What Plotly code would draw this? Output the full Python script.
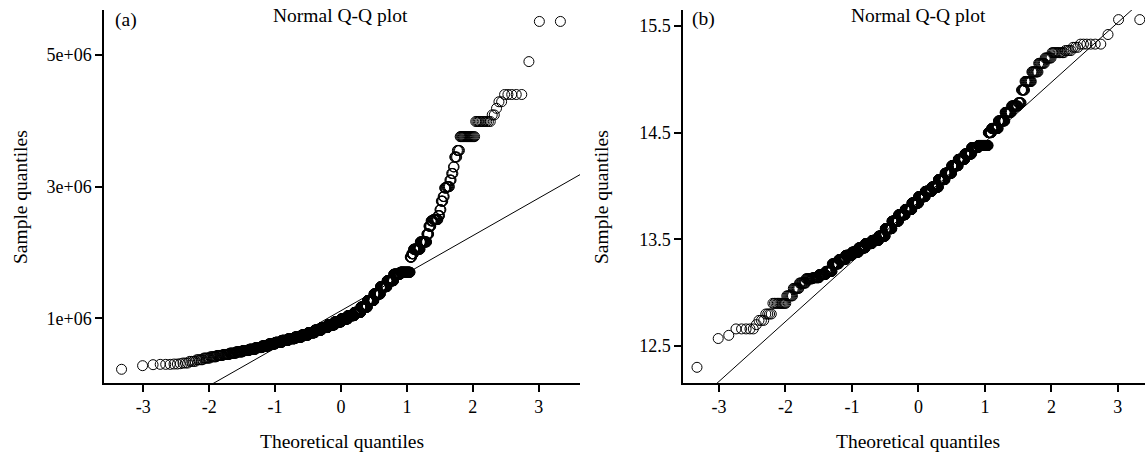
import numpy as np
import plotly.graph_objects as go
from statistics import NormalDist

# ---------------- data ----------------
# Panel (a): sorted sample values (in units of 1e6) and how many points share each value
a_values = [0.225, 0.28, 0.295, 0.30, 0.305, 0.31,
            0.32, 0.345, 0.37, 0.395, 0.415, 0.435, 0.45, 0.47, 0.49, 0.51,
            0.53, 0.555, 0.58, 0.61, 0.635, 0.665, 0.69, 0.715, 0.745, 0.78,
            0.82, 0.86, 0.90, 0.945, 0.99, 1.04, 1.09, 1.17, 1.27, 1.37,
            1.48, 1.57, 1.67, 1.70, 1.93, 1.98, 2.05, 2.16, 2.28, 2.40,
            2.48, 2.50, 2.56, 2.65, 2.78, 2.85, 2.98, 3.0, 3.1, 3.2,
            3.3, 3.45, 3.55, 3.76, 3.99, 4.09, 4.19, 4.29, 4.40, 4.90, 5.51]
a_counts = [1, 1, 1, 3, 2, 1,
            3, 4, 5, 6, 7, 8, 10, 12, 14, 16,
            18, 21, 24, 26, 29, 32, 35, 37, 39, 42,
            43, 44, 46, 46, 46, 45, 44, 43, 41, 39,
            37, 35, 32, 43, 6, 7, 24, 21, 6, 6,
            6, 12, 4, 3, 4, 3, 4, 6, 3, 3,
            2, 4, 4, 17, 11, 2, 1, 2, 5, 1, 2]

# Panel (b): sorted log sample values and their counts
b_values = [12.30, 12.57, 12.60, 12.66, 12.70,
            12.74, 12.80, 12.90, 12.90, 12.97, 13.04, 13.09, 13.13, 13.14, 13.17,
            13.20, 13.27, 13.31, 13.35, 13.38, 13.42, 13.46, 13.49, 13.53, 13.60,
            13.67, 13.73, 13.78, 13.84, 13.90, 13.95, 13.99, 14.06, 14.12, 14.19,
            14.25, 14.30, 14.36, 14.38, 14.50, 14.54, 14.61, 14.69, 14.75, 14.78,
            14.90, 14.98, 15.07, 15.15, 15.20, 15.25, 15.27, 15.30, 15.33, 15.42, 15.56]
b_counts = [1, 1, 1, 5, 1,
            3, 4, 5, 6, 7, 8, 10, 12, 14, 16,
            18, 21, 24, 26, 29, 32, 35, 37, 39, 42,
            43, 44, 46, 46, 46, 45, 44, 43, 41, 39,
            37, 35, 32, 43, 13, 24, 21, 18, 16, 7,
            7, 12, 10, 8, 7, 10, 4, 3, 6, 1, 2]

# reference lines: (intercept, slope)
a_line = (1.115, 0.57)      # in 1e6 units
b_line = (13.85, 0.561)

x_ticks = [-3, -2, -1, 0, 1, 2, 3]
a_yticks = [1, 3, 5]
a_yticklabels = ["1e+06", "3e+06", "5e+06"]
b_yticks = [12.5, 13.5, 14.5, 15.5]
b_yticklabels = ["12.5", "13.5", "14.5", "15.5"]

# ---------------- build ----------------
nd = NormalDist()


def qq(values, counts):
    y = np.repeat(np.array(values, dtype=float), counts)
    n = len(y)
    p = (np.arange(1, n + 1) - 0.5) / n
    x = np.array([nd.inv_cdf(v) for v in p])
    return x, y


xa, ya = qq(a_values, a_counts)
xb, yb = qq(b_values, b_counts)
ya = ya * 1e6

FONT = "Liberation Serif"
FS = 18
FA = 19.5
W, H = 1145, 458

a_xrange = [-3.596, 3.627]
b_xrange = [-3.54, 3.408]
a_yrange = [0.0167e6, 5.684e6]
b_yrange = [12.153, 15.65]

fig = go.Figure()
mk = dict(symbol="circle-open", size=10, color="black", line=dict(width=1, color="black"))
fig.add_trace(go.Scatter(x=xa, y=ya, mode="markers", marker=mk, xaxis="x", yaxis="y",
                         showlegend=False))
fig.add_trace(go.Scatter(x=xb, y=yb, mode="markers", marker=mk, xaxis="x2", yaxis="y2",
                         showlegend=False))

lx = np.array([-4.0, 4.0])
fig.add_trace(go.Scatter(x=lx, y=(a_line[0] + a_line[1] * lx) * 1e6, mode="lines",
                         line=dict(color="black", width=1), xaxis="x", yaxis="y",
                         showlegend=False))
fig.add_trace(go.Scatter(x=lx, y=b_line[0] + b_line[1] * lx, mode="lines",
                         line=dict(color="black", width=1), xaxis="x2", yaxis="y2",
                         showlegend=False))


def px(x):
    return x / W


def py(y):
    return 1 - y / H


axcommon = dict(showgrid=False, zeroline=False, showline=True, linecolor="black",
                linewidth=1.5, ticks="outside", ticklen=7, tickwidth=1.5,
                tickcolor="black", tickfont=dict(family=FONT, size=FS, color="black"),
                mirror=False)

fig.update_layout(
    width=W, height=H, margin=dict(l=0, r=0, t=0, b=0),
    paper_bgcolor="white", plot_bgcolor="white",
    xaxis=dict(domain=[px(104), px(580)], range=a_xrange, anchor="y",
               tickvals=x_ticks, ticktext=[str(t) for t in x_ticks], **axcommon),
    yaxis=dict(domain=[py(383), py(10)], range=a_yrange, anchor="x",
               tickvals=[v * 1e6 for v in a_yticks], ticktext=a_yticklabels, **axcommon),
    xaxis2=dict(domain=[px(683), 1.0], range=b_xrange, anchor="y2",
                tickvals=x_ticks, ticktext=[str(t) for t in x_ticks], **axcommon),
    yaxis2=dict(domain=[py(383), py(10)], range=b_yrange, anchor="x2",
                tickvals=b_yticks, ticktext=b_yticklabels, **axcommon),
)

ann_font = dict(family=FONT, size=FA, color="black")
anns = [
    dict(text="Theoretical quantiles", x=px(342), y=py(441)),
    dict(text="Theoretical quantiles", x=px(918), y=py(441)),
    dict(text="Sample quantiles", x=px(20), y=py(197), textangle=-90),
    dict(text="Sample quantiles", x=px(601), y=py(197), textangle=-90),
    dict(text="Normal Q-Q plot", x=px(340), y=py(16)),
    dict(text="Normal Q-Q plot", x=px(918), y=py(16)),
    dict(text="(a)", x=px(113), y=py(20), xanchor="left"),
    dict(text="(b)", x=px(690), y=py(19), xanchor="left"),
]
for a in anns:
    a.setdefault("xanchor", "center")
    fig.add_annotation(xref="paper", yref="paper", showarrow=False, yanchor="middle",
                       font=ann_font, **a)

fig.write_html("out.html", config={"displayModeBar": False},
               post_script="document.body.style.margin='0';document.body.style.overflow='hidden';")
